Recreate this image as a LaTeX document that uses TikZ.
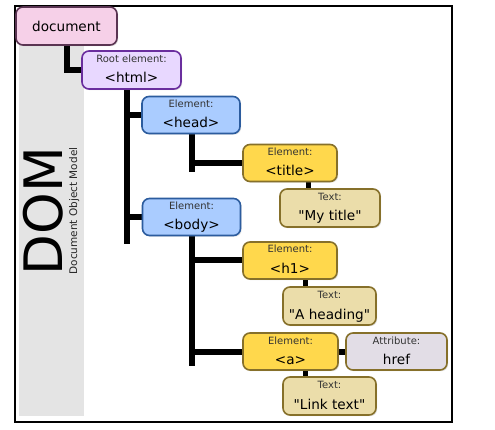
\documentclass[tikz,border=0pt]{standalone}
\usepackage{fontspec}
\setmainfont{DejaVu Sans}
\newfontfamily\plaindv{DejaVu Sans}
\usetikzlibrary{shadows}
\definecolor{docfill}{HTML}{F6D0E8}
\definecolor{docline}{HTML}{5A3452}
\definecolor{htmlfill}{HTML}{E8D8FF}
\definecolor{htmlline}{HTML}{6A2E9E}
\definecolor{elfill}{HTML}{AACCFF}
\definecolor{elline}{HTML}{2C5C9E}
\definecolor{yfill}{HTML}{FFD84C}
\definecolor{yline}{HTML}{86702A}
\definecolor{tfill}{HTML}{EBDDAA}
\definecolor{afill}{HTML}{E2DDE6}
\definecolor{bandgray}{HTML}{E4E4E4}
\pgfdeclarelayer{back}
\pgfdeclarelayer{links}
\pgfsetlayers{back,links,main}
\begin{document}
\begin{tikzpicture}[x=1pt,y=-1pt,
  box/.style={draw, rounded corners=7pt, line width=1.6pt, inner sep=0pt,
    drop shadow={opacity=0.22,shadow xshift=1.2pt,shadow yshift=-1.2pt}},
  docbox/.style={box, fill=docfill, draw=docline, minimum width=101pt, minimum height=38pt},
  htmlbox/.style={box, fill=htmlfill, draw=htmlline, minimum width=99pt, minimum height=38pt},
  elbox/.style={box, fill=elfill, draw=elline, minimum width=98pt, minimum height=37pt},
  ybox/.style={box, fill=yfill, draw=yline, minimum width=94pt, minimum height=37pt},
  tbox/.style={box, fill=tfill, draw=yline, minimum width=94pt, minimum height=38pt},
  abox/.style={box, fill=afill, draw=yline, minimum width=101pt, minimum height=37pt},
  conn/.style={line width=6pt, black},
  sconn/.style={line width=5pt, black},
  small/.style={font=\plaindv\fontsize{10}{12}\selectfont, text=black!80, anchor=base, inner sep=0pt},
  big/.style={font=\plaindv\fontsize{13.6}{16}\selectfont, anchor=base, inner sep=0pt}
]
\useasboundingbox (0,0) rectangle (495,430);
\begin{pgfonlayer}{back}
\fill[white] (0,0) rectangle (495,430);
\fill[bandgray] (19,10) rectangle (84,416);
\draw[line width=1.2pt] (15,6) rectangle (452,422);
\end{pgfonlayer}
% DOM title
\node[rotate=90, anchor=base, inner sep=0pt, font=\fontsize{53}{53}\selectfont] (dom) at (62,211) {DOM};
\node[rotate=90, anchor=base, inner sep=0pt, font=\fontsize{10.5}{12}\selectfont, text=black!85] (domsub) at (77,211) {Document Object Model};

% boxes
\node[docbox] (doc) at (66.5,26) {};
\node[htmlbox] (html) at (131.5,70) {};
\node[elbox] (head) at (191,115) {};
\node[elbox] (body) at (191.5,217) {};
\node[ybox] (title) at (290,163) {};
\node[tbox, minimum width=100pt] (mytitle) at (330,208) {};
\node[ybox] (h1) at (290,260.5) {};
\node[tbox, minimum width=93pt] (ahead) at (329.5,306) {};
\node[ybox, minimum width=95pt] (a) at (290.5,351.5) {};
\node[abox] (attr) at (396.5,351.5) {};
\node[tbox, minimum width=93pt] (link) at (329.5,396) {};

% connectors
\coordinate (t1) at (127,244);
\coordinate (t2) at (192,172);
\coordinate (t3) at (192,366);
\coordinate (c1) at (308,185);
\coordinate (c2) at (305,283);
\coordinate (c3) at (305,374);
\begin{pgfonlayer}{links}
\draw[conn] (doc.south) |- (html.west);
\draw[conn] (html.south -| t1) -- (t1);
\draw[conn] (t1 |- head.west) -- (head.west);
\draw[conn] (t1 |- body.west) -- (body.west);
\draw[conn] (head.south -| t2) -- (t2);
\draw[conn] (t2 |- title.west) -- (title.west);
\draw[conn] (body.south -| t3) -- (t3);
\draw[conn] (t3 |- h1.west) -- (h1.west);
\draw[conn] (t3 |- a.west) -- (a.west);
\draw[sconn] (c1 |- title.south) -- (c1 |- mytitle.north);
\draw[sconn] (c2 |- h1.south) -- (c2 |- ahead.north);
\draw[sconn] (c3 |- a.south) -- (c3 |- link.north);
\draw[conn] (a.east) -- (attr.west);
\end{pgfonlayer}

% texts
\node[font=\fontsize{13.6}{16}\selectfont] (doct) at (doc) {document};
\path (html.center) ++(0,-7.5) node[small] (htmlk) {Root element:} ++(0,20.5) node[big] (htmlv) {<html>};
\path (head.center) ++(0,-7.5) node[small] (headk) {Element:} ++(0,20.5) node[big] (headv) {<head>};
\path (body.center) ++(0,-7.5) node[small] (bodyk) {Element:} ++(0,20.5) node[big] (bodyv) {<body>};
\path (title.center) ++(0,-7.5) node[small] (titlek) {Element:} ++(0,20.5) node[big] (titlev) {<title>};
\path (mytitle.center) ++(0,-7.5) node[small] (mytitlek) {Text:} ++(0,20.5) node[big] (mytitlev) {"My title"};
\path (h1.center) ++(0,-7.5) node[small] (h1k) {Element:} ++(0,20.5) node[big] (h1v) {<h1>};
\path (ahead.center) ++(0,-7.5) node[small] (aheadk) {Text:} ++(0,20.5) node[big] (aheadv) {"A heading"};
\path (a.center) ++(0,-7.5) node[small] (ak) {Element:} ++(0,20.5) node[big] (av) {<a>};
\path (attr.center) ++(0,-7.5) node[small] (attrk) {Attribute:} ++(0,20.5) node[big] (attrv) {href};
\path (link.center) ++(0,-7.5) node[small] (linkk) {Text:} ++(0,20.5) node[big] (linkv) {"Link text"};
\end{tikzpicture}
\end{document}
